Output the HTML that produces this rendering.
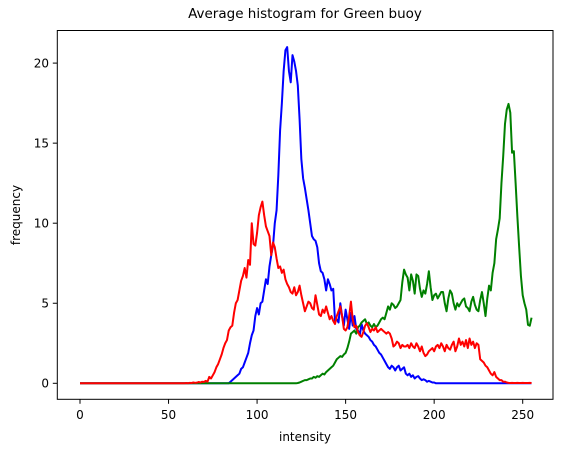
<!DOCTYPE html>
<html><head><meta charset="utf-8"><style>
body{margin:0;background:#fff;}
svg text{font-family:"DejaVu Sans","Liberation Sans",sans-serif;fill:#000;}
</style></head><body>
<svg id="chart" width="563" height="453" xmlns="http://www.w3.org/2000/svg">
<rect x="0" y="0" width="563" height="453" fill="#fff"/>
<g id="plot"></g>
<rect x="57.3" y="30.5" width="495.7" height="368.8" fill="none" stroke="#000" stroke-width="1"/>
<g id="axes"></g>
<text x="305" y="18" font-size="13.5" text-anchor="middle">Average histogram for Green buoy</text>
<text x="305" y="441" font-size="12" text-anchor="middle">intensity</text>
<text x="0" y="0" font-size="12" text-anchor="middle" transform="translate(20,215) rotate(-90)">frequency</text>
</svg>
<script>
const xTicks=[0,50,100,150,200,250];
const yTicks=[0,5,10,15,20];
const blueVals=[0,0,0,0,0,0,0,0,0,0, 0,0,0,0,0,0,0,0,0,0, 0,0,0,0,0,0,0,0,0,0, 0,0,0,0,0,0,0,0,0,0, 0,0,0,0,0,0,0,0,0,0, 0,0,0,0,0,0,0,0,0,0, 0,0,0,0,0,0,0,0,0,0, 0,0,0,0,0,0,0,0,0,0, 0,0,0,0,0,
0.1,0.2,0.3,0.4,0.5,0.6,0.9,1.0,1.3,1.6,1.9,2.5,3.0,3.3,4.2,4.7,4.3,5.0,5.1,5.8,6.5,6.2,7.3,8.0,8.6,10.0,10.8,13.0,15.8,17.5,19.5,20.8,21.0,19.5,18.8,20.5,20.1,19.5,18.6,16.5,14.0,12.8,12.2,11.5,10.8,10.0,9.2,9.0,8.9,8.5,7.5,7.0,6.9,6.5,5.8,6.5,6.2,5.8,5.9,3.9,4.0,3.8,5.0,4.2,3.6,4.6,4.0,3.4,4.4,3.6,4.2,3.4,3.3,3.0,3.7,3.3,3.1,3.0,2.9,2.7,2.6,2.4,2.3,2.1,1.9,1.8,1.6,1.4,1.2,1.0,0.9,1.1,1.0,0.8,1.0,1.1,0.8,0.9,1.0,0.6,0.5,0.6,0.4,0.5,0.3,0.4,0.45,0.3,0.2,0.25,0.2,0.1,0.15,0.1,0.05,0.05,
0,0,0,0,0,0,0,0,0,0, 0,0,0,0,0,0,0,0,0,0, 0,0,0,0,0,0,0,0,0,0, 0,0,0,0,0,0,0,0,0,0, 0,0,0,0,0,0,0,0,0,0, 0,0,0,0,0];
const greenVals=[0,0,0,0,0,0,0,0,0,0, 0,0,0,0,0,0,0,0,0,0, 0,0,0,0,0,0,0,0,0,0, 0,0,0,0,0,0,0,0,0,0, 0,0,0,0,0,0,0,0,0,0, 0,0,0,0,0,0,0,0,0,0, 0,0,0,0,0,0,0,0,0,0, 0,0,0,0,0,0,0,0,0,0, 0,0,0,0,0,0,0,0,0,0, 0,0,0,0,0,0,0,0,0,0, 0,0,0,0,0,0,0,0,0,0, 0,0,0,0,0,0,0,0,0,0, 0,0,0,
0.02,0.05,0.1,0.15,0.2,0.2,0.25,0.3,0.3,0.4,0.35,0.45,0.4,0.5,0.6,0.55,0.7,0.8,0.9,1.0,1.1,1.3,1.5,1.6,1.7,1.65,1.8,1.9,2.2,2.6,3.1,3.2,3.3,3.1,3.5,3.6,3.8,3.9,4.0,3.7,3.8,3.6,3.5,3.7,3.5,3.6,3.8,4.0,4.1,4.0,4.4,4.8,4.6,5.0,4.9,4.7,4.8,5.0,5.2,6.3,7.1,6.8,6.6,5.8,6.8,6.4,5.6,6.8,6.7,5.9,5.4,5.8,5.6,6.2,7.0,6.0,5.2,5.5,5.6,5.3,5.5,5.7,5.7,5.0,4.5,5.3,5.8,5.6,5.0,4.6,5.0,4.8,5.0,5.2,5.3,4.8,4.7,4.5,5.1,5.4,4.9,4.6,4.5,5.2,5.7,5.0,4.2,5.3,6.1,5.8,6.9,7.5,9.0,9.6,10.3,12.5,14.2,16.2,17.1,17.45,16.9,14.4,14.5,12.5,10.4,8.5,6.7,5.5,5.0,4.6,3.65,3.6,4.1];
const redVals=[0,0,0,0,0,0,0,0,0,0, 0,0,0,0,0,0,0,0,0,0, 0,0,0,0,0,0,0,0,0,0, 0,0,0,0,0,0,0,0,0,0, 0,0,0,0,0,0,0,0,0,0, 0,0,0,0,0,0,0,0,0,0,
0.02,0,0.03,0.02,0.05,0.03,0.04,0.08,0.05,0.1,0.08,0.15,0.1,0.4,0.3,0.5,0.7,1.0,1.2,1.5,1.8,2.2,2.5,2.7,3.3,3.5,3.6,4.4,5.0,5.2,5.8,6.4,6.7,7.2,6.6,7.7,7.4,10.0,8.7,8.6,9.4,10.5,11.0,11.35,10.5,9.8,9.5,9.2,8.0,8.8,8.5,7.8,7.2,7.3,6.9,7.1,6.5,6.2,6.0,5.7,5.6,6.0,5.5,5.7,6.1,5.5,5.0,4.5,4.8,5.1,5.0,4.7,4.6,5.5,4.9,4.3,4.2,4.6,4.4,4.8,4.4,4.0,4.2,3.9,3.7,4.2,4.5,4.8,4.2,3.4,3.3,3.5,4.2,5.1,4.0,3.5,3.6,3.2,3.0,2.9,3.2,3.6,3.75,3.5,3.2,3.4,3.3,3.5,3.2,3.3,3.4,3.3,3.2,3.1,3.2,3.1,2.8,2.3,2.4,2.6,2.5,2.2,2.4,2.3,2.3,2.4,2.2,2.5,2.3,2.2,2.5,2.3,2.0,2.3,1.9,1.7,1.8,2.0,2.1,2.2,2.0,2.3,2.4,2.2,2.5,2.3,2.0,2.4,2.2,2.1,2.4,2.6,2.0,2.3,2.8,2.4,2.6,2.3,2.7,2.2,2.8,2.4,2.6,2.2,2.5,2.4,1.5,1.4,1.3,1.1,1.0,0.8,0.6,0.5,0.7,0.4,0.3,0.2,0.2,0.1,0.1,0.05,
0.03,0.02,0.03,0.02,0.02,0.03,0.02,0.02,0.03,0.02,0.02,0.02,0.03,0.02];

const NS='http://www.w3.org/2000/svg';
function xs(v){return 80+v*1.7708;}
function ys(v){return 383.3-v*16.01;}
const plot=document.getElementById('plot');
const axes=document.getElementById('axes');
function series(vals,color,name){
  const p=document.createElementNS(NS,'polyline');
  
  
  p.setAttribute('points',vals.map((v,i)=>xs(i).toFixed(2)+','+ys(v).toFixed(2)).join(' '));
  p.setAttribute('fill','none');
  p.setAttribute('stroke',color);
  p.setAttribute('stroke-width','2');
  p.setAttribute('stroke-linejoin','round');
  plot.appendChild(p);
}
series(blueVals,'#0000ff','blue-channel-line');
series(greenVals,'#008000','green-channel-line');
series(redVals,'#ff0000','red-channel-line');
xTicks.forEach(t=>{
  const l=document.createElementNS(NS,'line');
  
  
  l.setAttribute('x1',xs(t));l.setAttribute('x2',xs(t));
  l.setAttribute('y1',399.3);l.setAttribute('y2',403.8);
  l.setAttribute('stroke','#000');
  axes.appendChild(l);
  const tx=document.createElementNS(NS,'text');
  
  
  tx.setAttribute('x',xs(t));tx.setAttribute('y',419);
  tx.setAttribute('font-size','12');tx.setAttribute('text-anchor','middle');
  tx.textContent=t;
  axes.appendChild(tx);
});
yTicks.forEach(t=>{
  const l=document.createElementNS(NS,'line');
  
  
  l.setAttribute('x1',52.8);l.setAttribute('x2',57.3);
  l.setAttribute('y1',ys(t));l.setAttribute('y2',ys(t));
  l.setAttribute('stroke','#000');
  axes.appendChild(l);
  const tx=document.createElementNS(NS,'text');
  
  
  tx.setAttribute('x',49);tx.setAttribute('y',ys(t)+4.3);
  tx.setAttribute('font-size','12');tx.setAttribute('text-anchor','end');
  tx.textContent=t;
  axes.appendChild(tx);
});
</script>
</body></html>
